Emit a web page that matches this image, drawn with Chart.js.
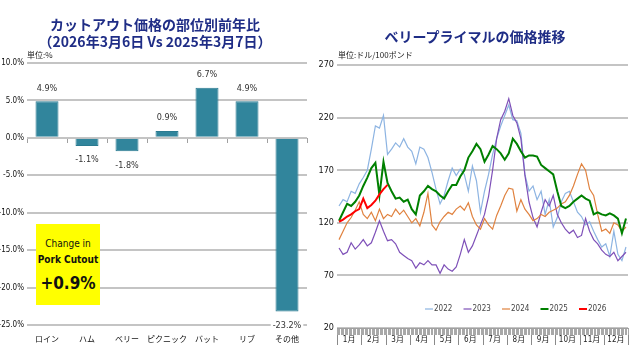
<!DOCTYPE html>
<html>
<head>
<meta charset="utf-8">
<script src="https://cdn.jsdelivr.net/npm/chart.js@4.4.1/dist/chart.umd.min.js"></script>
<style>
  body { margin: 0; width: 630px; height: 363px; background: #fff; position: relative; overflow: hidden; font-family: "Noto Sans CJK JP", sans-serif; }
  .wrap { position: absolute; top: 0; width: 315px; height: 363px; }
  .wrap canvas { display: block; }
  #leftWrap { left: 0; }
  #rightWrap { left: 315px; }
  .title { position: absolute; color: #1f2d86; font-weight: bold; font-size: 14px; line-height: 17px; text-align: center; white-space: nowrap; }
  .unit { position: absolute; font-size: 8px; color: #222; white-space: nowrap; }
  #box { position: absolute; left: 36px; top: 224px; width: 64px; height: 81px; background: #ffff00; text-align: center; color: #111;
         font-family: "Liberation Sans Narrow", "DejaVu Sans Condensed", sans-serif; }
  #box .l1 { position: absolute; left: 0; right: 0; top: 14px; font-size: 10px; }
  #box .l2 { position: absolute; left: 0; right: 0; top: 30px; font-size: 10px; font-weight: bold; }
  #box .l3 { position: absolute; left: 0; right: 0; top: 49px; font-size: 17px; font-weight: bold; }
</style>
</head>
<body>
<div class="wrap" id="leftWrap"><canvas id="cutoutChart" width="315" height="363"></canvas></div>
<div class="wrap" id="rightWrap"><canvas id="bellyChart" width="315" height="363"></canvas></div>

<div class="title" style="left:0; width:310px; top:16px;">カットアウト価格の部位別前年比<br>（2026年3月6日 Vs 2025年3月7日）</div>
<div class="unit" style="left:27px; top:49px;">単位:%</div>
<div class="title" style="left:315px; width:320px; top:28px;">ベリープライマルの価格推移</div>
<div class="unit" style="left:338px; top:49px;">単位:ドル/100ポンド</div>

<div id="box">
  <div class="l1">Change in</div>
  <div class="l2">Pork Cutout</div>
  <div class="l3">+0.9%</div>
</div>

<script>
// --- data: 部位別前年比 ---
const parts = ["ロイン", "ハム", "ベリー", "ピクニック", "バット", "リブ", "その他"];
const changeValues = [4.9, -1.1, -1.8, 0.9, 6.7, 4.9, -23.2];

// --- data: ベリープライマル (6 readings per month) ---
const months = ["1月", "2月", "3月", "4月", "5月", "6月", "7月", "8月", "9月", "10月", "11月", "12月"];
const years = ["2022", "2023", "2024", "2025", "2026"];
const p2022 = [
  136, 142, 140, 150, 148, 157,
  163, 170, 190, 212, 210, 222,
  185, 190, 196, 192, 200, 192,
  188, 176, 192, 190, 182, 168,
  152, 138, 146, 160, 172, 165,
  171, 166, 150, 174, 160, 130,
  150, 166, 185, 200, 212, 222,
  232, 218, 217, 205, 166, 150,
  155, 142, 150, 128, 142, 116,
  125, 140, 148, 150, 140, 130,
  126, 118, 121, 112, 104, 97,
  100, 88, 112, 90, 84, 97
];
const p2023 = [
  96, 90, 92, 101, 95, 99,
  104, 98, 101, 111, 122, 112,
  103, 104, 100, 92, 89, 86,
  84, 77, 82, 80, 84, 80,
  80, 72, 80, 76, 74, 78,
  90, 104, 92, 98, 108, 118,
  128, 145, 170, 200, 218, 226,
  238, 222, 215, 200, 165, 140,
  125, 116, 130, 142, 136, 146,
  128, 120, 114, 110, 113, 106,
  108, 124, 112, 104, 100, 94,
  90, 88, 92, 84, 88, 92
];
const p2024 = [
  104, 112, 120, 125, 132, 140,
  128, 124, 130, 122, 133, 124,
  128, 126, 133, 128, 132, 126,
  120, 124, 117, 130, 148, 118,
  113, 121, 126, 130, 128, 133,
  136, 132, 139, 126, 118, 114,
  124, 118, 114, 127, 136, 146,
  153, 152, 131, 142, 133, 128,
  122, 124, 128, 126, 130, 132,
  134, 138, 140, 146, 155, 166,
  176, 170, 152, 146, 128, 112,
  114, 110, 120, 118, 112, 116
];
const p2025 = [
  122, 130, 138, 136, 140, 146,
  155, 163, 172, 177, 146, 178,
  158, 150, 143, 144, 140, 142,
  133, 128, 146, 150, 155, 152,
  150, 146, 143, 150, 156, 156,
  164, 170, 182, 188, 195, 190,
  178, 185, 193, 190, 186, 180,
  186, 200, 195, 188, 182, 184,
  184, 183, 175, 172, 169, 166,
  150, 136, 134, 136, 140, 143,
  146, 143, 141, 128, 130, 128,
  127, 129, 127, 124, 110, 124
];
const p2026 = [121, 123, 126, 128, 131, 133, 143, 134, 137, 141, 147, 152, 156];

const lineColors = ["#8db4e2", "#7e50b8", "#e0823f", "#008000", "#ff0000"];
const lineWidths = [1.2, 1.2, 1.2, 2, 2];

const narrow = '"Liberation Sans Narrow", "DejaVu Sans Condensed", "Noto Sans CJK JP", sans-serif';
Chart.defaults.font.family = narrow;
Chart.defaults.font.size = 9;
Chart.defaults.color = "#111";
Chart.defaults.animation = false;

// --- left: bar chart ---
const barLabels = {
  id: "barLabels",
  afterDatasetsDraw(chart) {
    const ctx = chart.ctx;
    const meta = chart.getDatasetMeta(0);
    ctx.save();
    ctx.font = "9px " + narrow;
    ctx.textAlign = "center";
    ctx.textBaseline = "middle";
    meta.data.forEach((bar, i) => {
      const v = changeValues[i];
      const txt = v.toFixed(1) + "%";
      const y = v >= 0 ? bar.y - 13 : bar.y + 14;
      const w = ctx.measureText(txt).width + 4;
      ctx.fillStyle = "#fff";
      ctx.fillRect(bar.x - w / 2, y - 5, w, 10);
      ctx.fillStyle = "#333";
      ctx.fillText(txt, bar.x, y);
    });
    ctx.restore();
  }
};

new Chart(document.getElementById("cutoutChart"), {
  type: "bar",
  data: {
    labels: parts,
    datasets: [{
      data: changeValues,
      backgroundColor: "#31859c",
      borderColor: "#2a7a90",
      borderWidth: 1,
      categoryPercentage: 1,
      barPercentage: 0.575
    }]
  },
  options: {
    responsive: false,
    layout: { padding: { top: 63, right: 8, bottom: 18, left: 0 } },
    plugins: { legend: { display: false }, tooltip: { enabled: false } },
    scales: {
      x: {
        grid: { display: false },
        border: { display: false },
        ticks: { padding: 2, color: "#111", maxRotation: 0, autoSkip: false, font: { size: 8 } },
        afterFit: (s) => { s.height = 20; }
      },
      xZero: {
        type: "category",
        labels: parts,
        position: { y: 0 },
        offset: true,
        grid: { drawOnChartArea: false, offset: true, tickLength: 5, color: "#a0a0a0", lineWidth: 1 },
        border: { display: false },
        ticks: { display: false }
      },
      y: {
        min: -25, max: 10,
        ticks: { stepSize: 5, padding: 3, color: "#111", font: { size: 8 }, callback: (v) => v.toFixed(1) + "%" },
        grid: { color: "#c4c4c4", lineWidth: 2, drawTicks: false },
        border: { display: false },
        afterFit: (s) => { s.width = 27; }
      }
    }
  },
  plugins: [barLabels]
});

// --- right: line chart ---
const seriesValues = [p2022, p2023, p2024, p2025, p2026];

const monthAxis = {
  id: "monthAxis",
  afterDraw(chart) {
    const ctx = chart.ctx;
    const x = chart.scales.x;
    const b = chart.chartArea.bottom;
    ctx.save();
    ctx.strokeStyle = "#8a8a8a";
    ctx.lineWidth = 1;
    for (let m = 0; m <= 12; m++) {
      const px = Math.round(x.getPixelForValue(m * 6)) + 0.5;
      ctx.beginPath();
      ctx.moveTo(px, b + 7);
      ctx.lineTo(px, b + 17);
      ctx.stroke();
    }
    ctx.fillStyle = "#222";
    ctx.font = "8px " + narrow;
    ctx.textAlign = "center";
    ctx.textBaseline = "middle";
    months.forEach((m, i) => {
      ctx.fillText(m, x.getPixelForValue(i * 6 + 3), b + 12);
    });
    ctx.restore();
  }
};

const yearLegend = {
  id: "yearLegend",
  afterDraw(chart) {
    const ctx = chart.ctx;
    ctx.save();
    ctx.font = "8px " + narrow;
    ctx.textBaseline = "middle";
    years.forEach((yr, i) => {
      const lx = 110 + i * 38.5;
      const ly = 309;
      ctx.strokeStyle = lineColors[i];
      ctx.lineWidth = lineWidths[i];
      ctx.beginPath();
      ctx.moveTo(lx, ly);
      ctx.lineTo(lx + 8, ly);
      ctx.stroke();
      ctx.fillStyle = "#444";
      ctx.fillText(yr, lx + 9, ly);
    });
    ctx.restore();
  }
};

new Chart(document.getElementById("bellyChart"), {
  type: "line",
  data: {
    datasets: years.map((yr, i) => ({
      label: yr,
      data: seriesValues[i].map((v, k) => ({ x: k + 0.5, y: v })),
      borderColor: lineColors[i],
      borderWidth: lineWidths[i],
      pointRadius: 0,
      tension: 0,
      fill: false,
      order: years.length - i
    }))
  },
  options: {
    responsive: false,
    layout: { padding: { top: 65, right: 2, bottom: 15, left: 0 } },
    plugins: { legend: { display: false }, tooltip: { enabled: false } },
    scales: {
      x: {
        type: "linear",
        min: 0, max: 72,
        afterBuildTicks: (s) => {
          const t = [];
          for (let i = 0; i <= 216; i++) t.push({ value: i / 3 });
          s.ticks = t;
        },
        grid: { drawOnChartArea: false, tickLength: 7, color: "#a8a8a8", lineWidth: 1 },
        border: { display: true, color: "#a0a0a0" },
        ticks: { display: false, autoSkip: false },
        afterFit: (s) => { s.height = 20; }
      },
      y: {
        min: 20, max: 270,
        ticks: { stepSize: 50, padding: 3, color: "#111" },
        grid: { color: "#c4c4c4", lineWidth: 2, drawTicks: false },
        border: { display: false },
        afterFit: (s) => { s.width = 22; }
      }
    }
  },
  plugins: [monthAxis, yearLegend]
});
</script>
</body>
</html>
